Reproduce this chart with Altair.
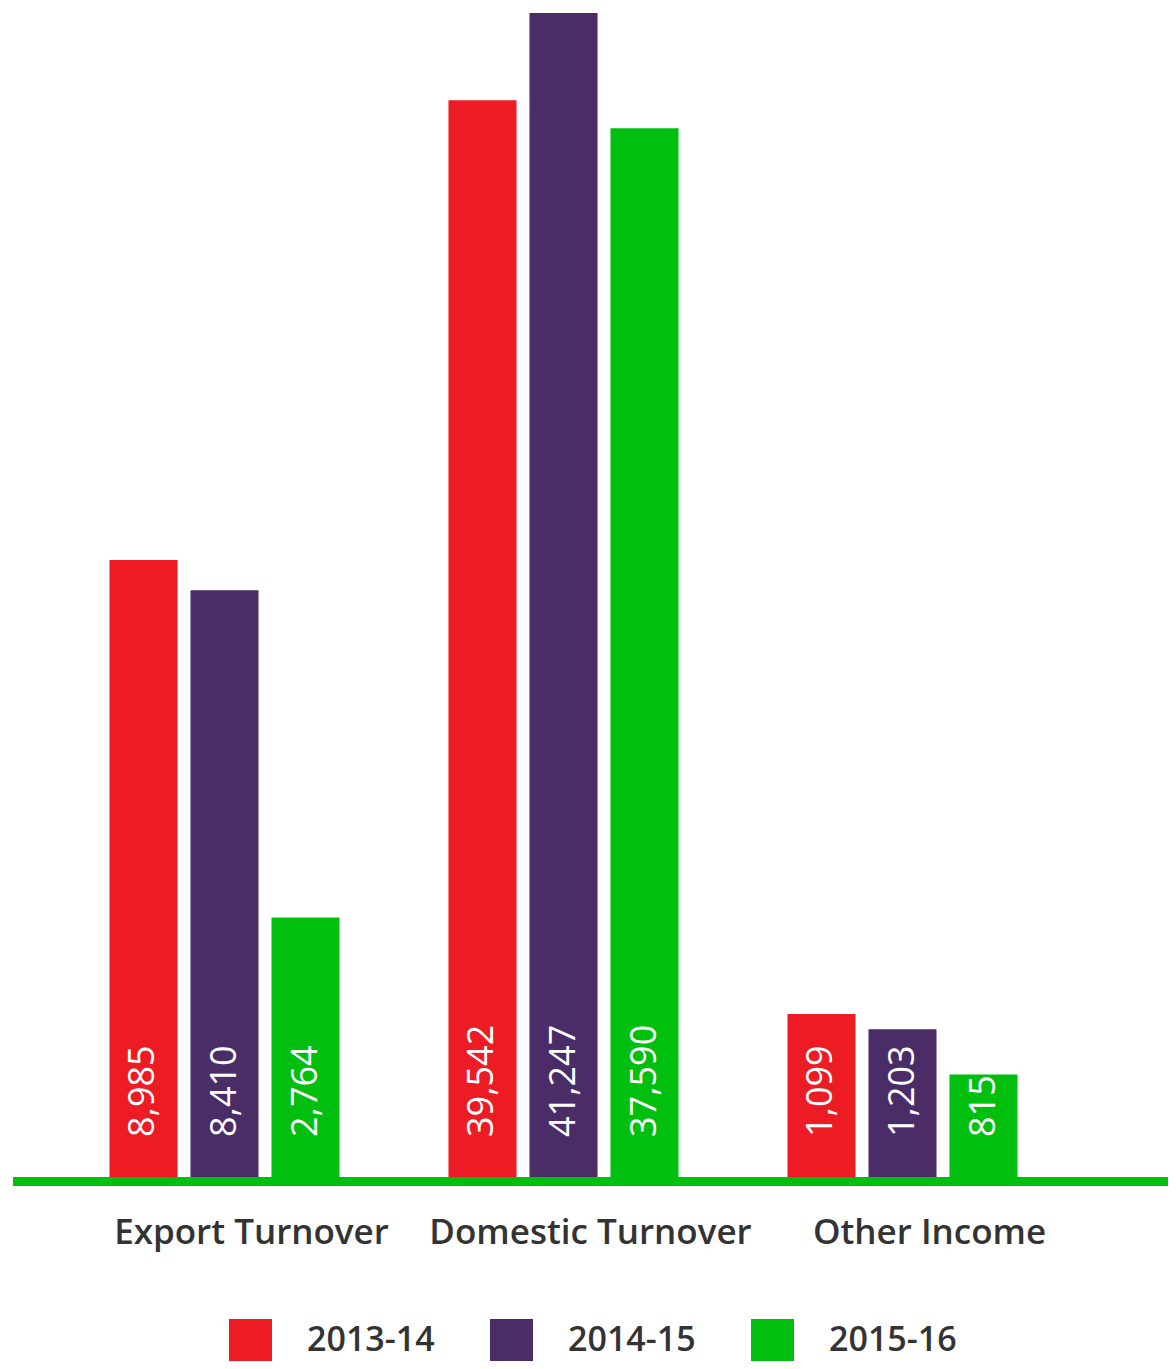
import altair as alt
import pandas as pd

groups = ["Export Turnover", "Domestic Turnover", "Other Income"]
years = ["2013-14", "2014-15", "2015-16"]
export_values = [8985, 8410, 2764]
domestic_values = [39542, 41247, 37590]
other_values = [1099, 1203, 815]
# bar heights as drawn in the picture (percent of the tallest bar)
export_drawn = [53.0, 50.4, 22.3]
domestic_drawn = [92.5, 100.0, 90.1]
other_drawn = [14.0, 12.7, 8.8]
colors = ["#ED1C24", "#4A2C67", "#00BF0F"]

rows = []
for g, vals, drawn in zip(groups, [export_values, domestic_values, other_values],
                          [export_drawn, domestic_drawn, other_drawn]):
    for y, v, d in zip(years, vals, drawn):
        rows.append({"group": g, "year": y, "value": v, "drawn": d})
df = pd.DataFrame(rows)

x_enc = alt.X("group:N", sort=groups, title=None,
              scale=alt.Scale(paddingInner=0, paddingOuter=0),
              axis=alt.Axis(domain=False, ticks=False, tickSize=0, labelAngle=0,
                            labelFont="Open Sans", labelFontWeight=600, labelFontSize=35,
                            labelColor="#333333", labelPadding=55, labelBaseline="middle",
                            labelOffset=27, labelLimit=0, grid=False))
xoff = alt.XOffset("year:N", sort=years,
                   scale=alt.Scale(paddingInner=0.16, paddingOuter=0.6725))

bars = alt.Chart(df).mark_bar().encode(
    x=x_enc,
    xOffset=xoff,
    y=alt.Y("drawn:Q", scale=alt.Scale(domain=[0, 100], nice=False, zero=True), axis=None),
    color=alt.Color("year:N", sort=years,
                    scale=alt.Scale(domain=years, range=colors),
                    legend=alt.Legend(title=None, orient="none", legendX=174, legendY=1306,
                                      direction="horizontal", symbolType="square",
                                      symbolSize=1849, symbolStrokeWidth=0, symbolOpacity=1,
                                      labelFont="Open Sans", labelFontWeight=600,
                                      labelFontSize=34, labelColor="#333333",
                                      labelOffset=35, columnPadding=55, padding=0,
                                      labelBaseline="middle", labelLimit=0)),
)

labels = alt.Chart(df).mark_text(
    angle=270, align="left", baseline="middle", dx=40,
    color="white", font="Open Sans", fontWeight=400, fontSize=36,
).encode(
    x=alt.X("group:N", sort=groups),
    xOffset=xoff,
    y=alt.datum(0),
    text=alt.Text("value:Q", format=","),
)

base_df = pd.DataFrame({"v": [0]})
baseline = alt.Chart(base_df).mark_rule(color="#00BF0F", strokeWidth=9, yOffset=4.5).encode(
    x=alt.value(-42), x2=alt.value(1113), y=alt.Y("v:Q"),
)

chart = alt.layer(bars, labels, baseline).properties(
    width=1017, height=1164,
    autosize=alt.AutoSizeParams(type="none"),
    padding={"left": 47, "top": 5, "right": 96, "bottom": 184},
).configure_view(stroke=None)

chart.save("out.html", embed_options={"renderer": "svg", "actions": False})
